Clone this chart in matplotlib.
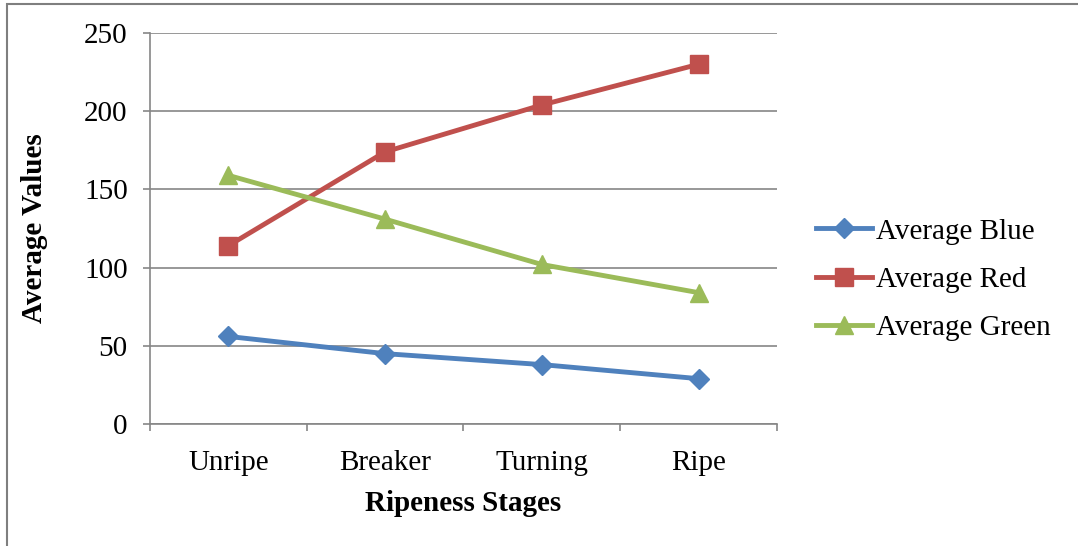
import matplotlib
matplotlib.use("Agg")
import matplotlib.pyplot as plt
from matplotlib.patches import Rectangle

plt.rcParams['font.family'] = ['Liberation Serif', 'DejaVu Serif']

stages = ['Unripe', 'Breaker', 'Turning', 'Ripe']
avg_blue = [56, 45, 38, 29]
avg_red = [114, 174, 204, 230]
avg_green = [159, 131, 102, 84]

grid_c = '#868686'

fig = plt.figure(figsize=(10.78, 5.46), dpi=100)
ax = fig.add_axes([0.1391, 0.2234, 0.5816, 0.7161])

x = range(len(stages))
ax.plot(x, avg_blue, color='#4F81BD', lw=3.5, marker='D', ms=10.5, label='Average Blue')
ax.plot(x, avg_red, color='#C0504D', lw=3.5, marker='s', ms=12.5, label='Average Red')
ax.plot(x, avg_green, color='#9BBB59', lw=3.5, marker='^', ms=13.5, label='Average Green')

ax.set_xlim(-0.5, 3.5)
ax.set_ylim(0, 250)
ax.set_yticks(range(0, 251, 50))
ax.set_xticks(list(x))
ax.set_xticklabels(stages)
ax.set_xticks([-0.5, 0.5, 1.5, 2.5, 3.5], minor=True)

ax.grid(axis='y', color=grid_c, lw=1.2)
ax.set_axisbelow(True)
for s in ['top', 'right']:
    ax.spines[s].set_visible(False)
for s in ['left', 'bottom']:
    ax.spines[s].set_color(grid_c)
    ax.spines[s].set_linewidth(1.2)

ax.tick_params(axis='y', length=5, width=1.2, color=grid_c, pad=11, labelsize=21)
ax.tick_params(axis='x', which='major', length=0, pad=19, labelsize=21)
ax.tick_params(axis='x', which='minor', length=5, width=1.2, color=grid_c)

ax.set_xlabel('Ripeness Stages', fontsize=21, fontweight='bold', labelpad=10)
ax.set_ylabel('Average Values', fontsize=21, fontweight='bold', labelpad=26)

ax.legend(loc='center left', bbox_to_anchor=(1.021, 0.369), frameon=False,
          fontsize=21, handlelength=1.9, handletextpad=0.15, labelspacing=0.75)

# outer chart frame
fig.patches.append(Rectangle((7 / 1078, -0.1), 1.2, 1 - 4 / 546 + 0.1,
                             transform=fig.transFigure, fill=False,
                             edgecolor='#7f7f7f', lw=1.5))

fig.savefig('out.png', dpi=100)
